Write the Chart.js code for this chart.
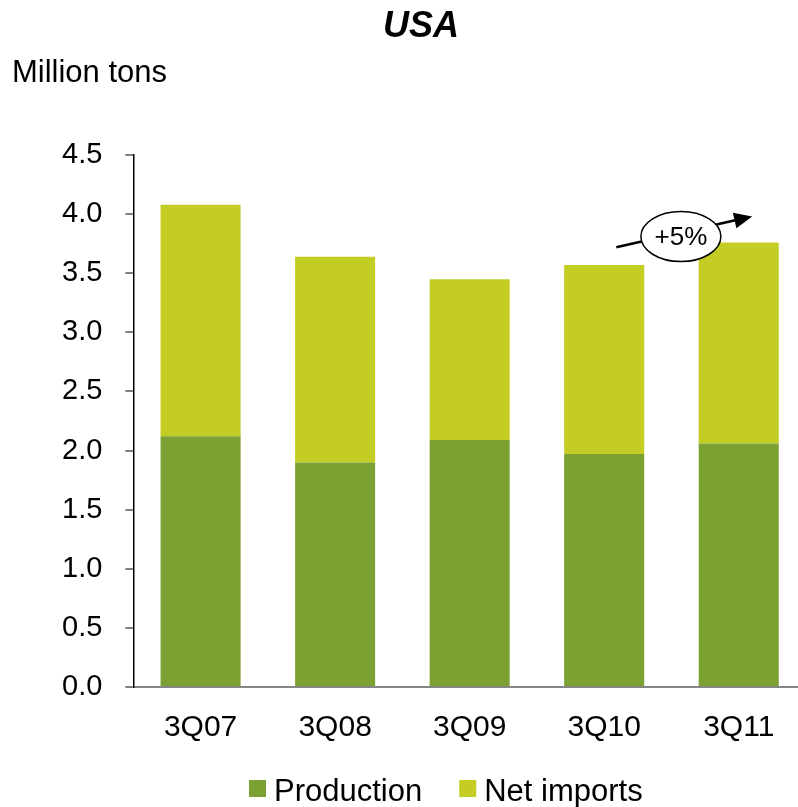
<!DOCTYPE html>
<html>
<head>
<meta charset="utf-8">
<script src="https://cdn.jsdelivr.net/npm/chart.js@4/dist/chart.umd.min.js"></script>
<style>
  html, body { margin: 0; padding: 0; background: #fff; overflow: hidden; }
  #wrap { width: 798px; height: 807px; overflow: hidden; }
</style>
</head>
<body>
<div id="wrap"><canvas id="myChart" width="806" height="807"></canvas></div>
<script>
// chart data
const QUARTERS = ["3Q07", "3Q08", "3Q09", "3Q10", "3Q11"];
const PRODUCTION = [2.12, 1.90, 2.09, 1.97, 2.06];
const NET_IMPORTS = [1.96, 1.74, 1.36, 1.60, 1.70];
const SERIES_NAMES = ["Production", "Net imports"];
const Y_TICKS = [0, 0.5, 1.0, 1.5, 2.0, 2.5, 3.0, 3.5, 4.0, 4.5];

// colours + fonts
const COLOR_PRODUCTION = "#7aa132";
const COLOR_IMPORTS = "#c4cd23";
const FONT = "'Liberation Sans', Arial, sans-serif";

// title, unit label, legend and the +5% callout are drawn by hand
const extrasPlugin = {
  id: 'extras',
  afterDraw(chart) {
    const ctx = chart.ctx;
    const x = chart.scales.x;
    const y = chart.scales.y;
    ctx.save();
    ctx.fillStyle = '#000';
    ctx.textBaseline = 'alphabetic';

    // title
    ctx.font = "italic bold 36px " + FONT;
    ctx.textAlign = 'center';
    ctx.fillText("USA", 421, 37);

    // unit
    ctx.font = "31px " + FONT;
    ctx.textAlign = 'left';
    ctx.fillText("Million tons", 12, 82);

    // legend
    const colors = [COLOR_PRODUCTION, COLOR_IMPORTS];
    let lx = 249;
    ctx.font = "31px " + FONT;
    SERIES_NAMES.forEach((name, i) => {
      ctx.fillStyle = colors[i];
      ctx.fillRect(lx, 780, 17, 17);
      ctx.fillStyle = '#000';
      ctx.fillText(name, lx + 25, 801);
      lx += 25 + ctx.measureText(name).width + 37;
    });

    // growth callout between 3Q10 and 3Q11
    const x0 = x.getPixelForValue(3.09), y0 = y.getPixelForValue(3.72);
    const x1 = x.getPixelForValue(4.10), y1 = y.getPixelForValue(3.98);
    const ang = Math.atan2(y1 - y0, x1 - x0);
    ctx.strokeStyle = '#000';
    ctx.lineWidth = 2.5;
    ctx.beginPath();
    ctx.moveTo(x0, y0);
    ctx.lineTo(x1 - 14 * Math.cos(ang), y1 - 14 * Math.sin(ang));
    ctx.stroke();
    // arrow head
    ctx.beginPath();
    ctx.moveTo(x1, y1);
    ctx.lineTo(x1 - 18 * Math.cos(ang) + 8 * Math.sin(ang), y1 - 18 * Math.sin(ang) - 8 * Math.cos(ang));
    ctx.lineTo(x1 - 18 * Math.cos(ang) - 8 * Math.sin(ang), y1 - 18 * Math.sin(ang) + 8 * Math.cos(ang));
    ctx.closePath();
    ctx.fillStyle = '#000';
    ctx.fill();
    // ellipse
    const ex = x.getPixelForValue(3.57), ey = y.getPixelForValue(3.81);
    ctx.beginPath();
    ctx.ellipse(ex, ey, 40, 25, 0, 0, Math.PI * 2);
    ctx.fillStyle = '#fff';
    ctx.fill();
    ctx.lineWidth = 1.5;
    ctx.stroke();
    ctx.fillStyle = '#000';
    ctx.font = "26px " + FONT;
    ctx.textAlign = 'center';
    ctx.textBaseline = 'middle';
    ctx.fillText("+5%", ex, ey + 1);
    ctx.restore();
  }
};

var ctx = document.getElementById("myChart").getContext("2d");
var usaChart = new Chart(ctx, {
  type: 'bar',
  data: {
    labels: QUARTERS,
    datasets: [
      {
        label: SERIES_NAMES[0],
        data: PRODUCTION,
        backgroundColor: COLOR_PRODUCTION,
        barPercentage: 0.595,
        categoryPercentage: 1.0,
      },
      {
        label: SERIES_NAMES[1],
        data: NET_IMPORTS,
        backgroundColor: COLOR_IMPORTS,
        barPercentage: 0.595,
        categoryPercentage: 1.0,
      },
    ]
  },
  options: {
    responsive: false,
    animation: false,
    layout: {
      // plot runs a little past the right edge of the window, as in the original
      padding: { top: 155, left: 39, right: 0, bottom: 46 },
    },
    scales: {
      x: {
        stacked: true,
        grid: { display: false },
        border: { color: '#868686', width: 2 },
        ticks: {
          color: '#000',
          padding: 15,
          font: { family: FONT, size: 30 },
        },
      },
      y: {
        stacked: true,
        min: 0,
        max: 4.5,
        afterBuildTicks: (axis) => {
          axis.ticks = Y_TICKS.map(v => ({ value: v }));
        },
        grid: {
          drawOnChartArea: false,
          tickLength: 8,
          color: '#808080',
          lineWidth: 2,
        },
        border: { color: '#000', width: 1.5 },
        ticks: {
          color: '#000',
          padding: 23,
          font: { family: FONT, size: 29 },
          callback: (val) => Number(val).toFixed(1),
        },
      },
    },
    plugins: {
      legend: { display: false },
      title: { display: false },
      tooltip: { enabled: false },
    },
  },
  plugins: [extrasPlugin],
});
</script>
</body>
</html>
